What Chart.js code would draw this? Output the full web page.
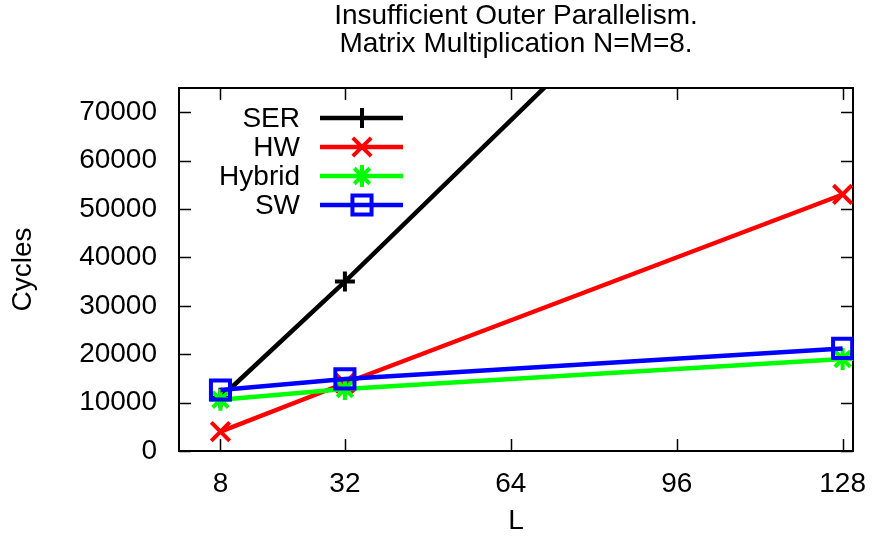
<!DOCTYPE html>
<html>
<head>
<meta charset="utf-8">
<script src="https://cdn.jsdelivr.net/npm/chart.js@4/dist/chart.umd.min.js"></script>
<style>
  html, body { margin: 0; padding: 0; background: #ffffff; }
  #wrap { width: 874px; height: 540px; }
</style>
</head>
<body>
<div id="wrap"><canvas id="chart" width="874" height="540"></canvas></div>
<script>
// Problem size L and measured cycle counts per implementation
const lValues = [8, 32, 128];
const serCycles = [11000, 35000, 135000];
const hwCycles = [4000, 14000, 53000];
const hybridCycles = [10600, 12800, 19000];
const swCycles = [12600, 14900, 21200];

const seriesNames = ['SER', 'HW', 'Hybrid', 'SW'];
const xTickValues = [8, 32, 64, 96, 128];
const yTickValues = [0, 10000, 20000, 30000, 40000, 50000, 60000, 70000];
const titleLines = ['Insufficient Outer Parallelism.', 'Matrix Multiplication N=M=8.'];

const FONT = '"Liberation Sans", Arial, Helvetica, sans-serif';
Chart.defaults.font.family = FONT;
Chart.defaults.color = '#000000';

function toPoints(ys) {
  return lValues.map((l, i) => ({ x: l, y: ys[i] }));
}

function series(label, ys, color, style, radius, order) {
  return {
    label: label,
    data: toPoints(ys),
    borderColor: color,
    backgroundColor: color,
    borderWidth: 4.5,
    pointStyle: style,
    pointRadius: radius,
    pointHoverRadius: radius,
    pointBorderWidth: 4,
    pointBorderColor: color,
    pointBackgroundColor: style === 'rect' ? 'rgba(0,0,0,0)' : color,
    tension: 0,
    fill: false,
    order: order
  };
}

// Frame with inward, mirrored tick marks
const framePlugin = {
  id: 'frame',
  beforeDatasetsDraw(chart) {
    const { ctx, chartArea: a, scales } = chart;
    const len = 12;
    ctx.save();
    ctx.strokeStyle = '#000000';
    ctx.lineWidth = 1.5;
    ctx.beginPath();
    yTickValues.forEach(v => {
      const py = Math.round(scales.y.getPixelForValue(v)) + 0.5;
      ctx.moveTo(a.left, py); ctx.lineTo(a.left + len, py);
      ctx.moveTo(a.right, py); ctx.lineTo(a.right - len, py);
    });
    xTickValues.forEach(v => {
      const px = Math.round(scales.x.getPixelForValue(v)) + 0.5;
      ctx.moveTo(px, a.bottom); ctx.lineTo(px, a.bottom - len);
      ctx.moveTo(px, a.top); ctx.lineTo(px, a.top + len);
    });
    ctx.stroke();
    ctx.lineWidth = 2;
    ctx.strokeRect(a.left, a.top, a.right - a.left, a.bottom - a.top);
    ctx.restore();
  }
};

// Key inside the plot: right-aligned names, then a line sample with its marker
const keyPlugin = {
  id: 'key',
  afterDatasetsDraw(chart) {
    const { ctx, chartArea: a } = chart;
    const ds = chart.data.datasets;
    ctx.save();
    ctx.font = '28px ' + FONT;
    ctx.textAlign = 'right';
    ctx.textBaseline = 'middle';
    ds.forEach((d, i) => {
      const y = a.top + 30 + i * 29;
      ctx.fillStyle = '#000000';
      ctx.fillText(d.label, a.left + 121, y + 1);
      ctx.strokeStyle = d.borderColor;
      ctx.lineWidth = d.borderWidth;
      ctx.beginPath();
      ctx.moveTo(a.left + 141, y);
      ctx.lineTo(a.left + 224, y);
      ctx.stroke();
      ctx.fillStyle = d.pointBackgroundColor;
      ctx.strokeStyle = d.pointBorderColor;
      ctx.lineWidth = d.pointBorderWidth;
      Chart.helpers.drawPoint(ctx, {
        pointStyle: d.pointStyle,
        radius: d.pointRadius,
        borderWidth: d.pointBorderWidth,
        rotation: 0
      }, a.left + 183, y);
    });
    ctx.restore();
  }
};

new Chart(document.getElementById('chart'), {
  type: 'line',
  data: {
    datasets: [
      series(seriesNames[0], serCycles, '#000000', 'cross', 10, 4),
      series(seriesNames[1], hwCycles, '#ff0000', 'crossRot', 13, 3),
      series(seriesNames[2], hybridCycles, '#00ff00', 'star', 11, 2),
      series(seriesNames[3], swCycles, '#0000ff', 'rect', 13.5, 1)
    ]
  },
  options: {
    responsive: false,
    animation: false,
    devicePixelRatio: 1,
    layout: { padding: { left: 0, right: 21, top: 0, bottom: 0 } },
    plugins: {
      legend: { display: false },
      tooltip: { enabled: false },
      title: {
        display: true,
        text: titleLines,
        fullSize: false,
        color: '#000000',
        font: { size: 28, weight: 'normal', lineHeight: 1.0 },
        padding: { top: 2, bottom: 30 }
      }
    },
    scales: {
      x: {
        type: 'linear',
        min: 0,
        max: 130,
        afterBuildTicks: s => { s.ticks = xTickValues.map(v => ({ value: v })); },
        afterFit: s => { s.height = 89; },
        grid: { display: false, drawTicks: true, tickLength: 16 },
        border: { display: false },
        ticks: {
          padding: 0,
          autoSkip: false,
          maxRotation: 0,
          color: '#000000',
          font: { size: 28 },
          callback: v => String(v)
        },
        title: {
          display: true,
          text: 'L',
          color: '#000000',
          font: { size: 28 },
          padding: { top: 0, bottom: 2 }
        }
      },
      y: {
        type: 'linear',
        min: 0,
        max: 75000,
        afterBuildTicks: s => { s.ticks = yTickValues.map(v => ({ value: v })); },
        afterFit: s => { s.width = 179; },
        grid: { display: false, drawTicks: false },
        border: { display: false },
        ticks: {
          padding: 22,
          color: '#000000',
          font: { size: 28 },
          callback: v => String(v)
        },
        title: {
          display: true,
          text: 'Cycles',
          color: '#000000',
          font: { size: 28 },
          padding: { top: 6, bottom: 0 }
        }
      }
    }
  },
  plugins: [framePlugin, keyPlugin]
});
</script>
</body>
</html>
